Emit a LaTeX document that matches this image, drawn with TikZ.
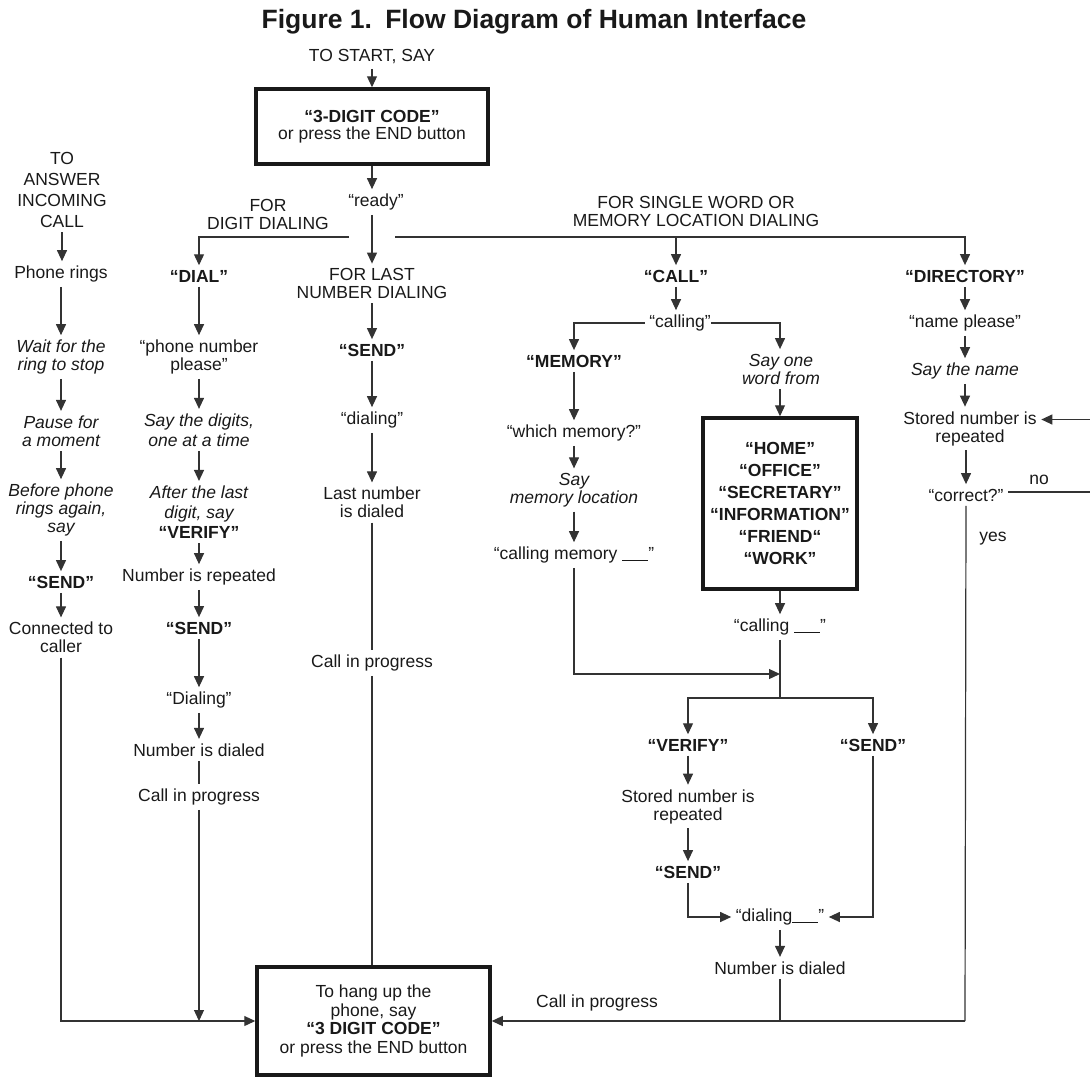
\documentclass[tikz,border=0pt]{standalone}
\usepackage{fontspec}
\setmainfont{Liberation Sans}
\usetikzlibrary{arrows.meta,calc}
\newcommand\fs{\fontsize{17.5}{18}\selectfont}
\newcommand\blank{\rule[-1.5pt]{26pt}{0.6pt}}
\begin{document}
\begin{tikzpicture}[x=1pt,y=-1pt,
 txt/.style={font=\fs, align=center, inner sep=4.5pt, text=black!90},
 bt/.style={txt, font=\fs\bfseries},
 itx/.style={txt, font=\fs\itshape},
 ln/.style={line width=1.2pt, draw=black!80},
 arr/.style={ln, -{Triangle[length=11pt,width=10pt]}},
 bigbox/.style={txt, draw=black!90, line width=3.5pt}]
\useasboundingbox (0,0) rectangle (1090,1077);

% title and start
\node[txt, font=\fontsize{26.5}{28}\selectfont\bfseries] (title) at (534,22) {Figure 1.\hspace{0.5em}Flow Diagram of Human Interface};
\node[txt] (tostart) at (372,57) {TO START, SAY};
\node[bigbox, minimum width=232pt, minimum height=75pt, font=\fontsize{17.5}{17}\selectfont] (startbox) at (372,126.5) {\textbf{“3-DIGIT CODE”}\\or press the END button};
\node[txt] (ready) at (376,202) {“ready”};
\node[txt] (fordigit) at (268,214) {FOR\\DIGIT DIALING};
\node[txt] (forlast) at (372,283.5) {FOR LAST\\NUMBER DIALING};
\node[txt] (forsingle) at (696,211.5) {FOR SINGLE WORD OR\\MEMORY LOCATION DIALING};
\node[txt, font=\fontsize{17.5}{21}\selectfont] (toanswer) at (62,190) {TO\\ANSWER\\INCOMING\\CALL};

% column 1
\node[txt] (phone) at (61,274) {Phone rings};
\node[itx] (wait) at (61,357) {Wait for the\\ring to stop};
\node[itx] (pause) at (61,431) {Pause for\\a moment};
\node[itx] (before) at (61,510) {Before phone\\rings again,\\say};
\node[bt] (send1) at (61,582) {“SEND”};
\node[txt] (conn) at (61,637.5) {Connected to\\caller};

% column 2
\node[bt] (dial) at (199,276) {“DIAL”};
\node[txt] (phnum) at (199,357) {“phone number\\please”};
\node[itx, font=\fontsize{17.5}{20}\selectfont\itshape] (saydig) at (199,430) {Say the digits,\\one at a time};
\node[itx, font=\fontsize{17.5}{20}\selectfont\itshape] (after) at (199,512) {After the last\\digit, say\\{\upshape\bfseries “VERIFY”}};
\node[txt] (numrep) at (199,577) {Number is repeated};
\node[bt] (send2) at (199,628) {“SEND”};
\node[txt] (dialing2) at (199,700) {“Dialing”};
\node[txt] (numdial) at (199,750) {Number is dialed};
\node[txt] (cip2) at (199,797) {Call in progress};

% column 3
\node[bt] (send3) at (372,350) {“SEND”};
\node[txt] (dialing3) at (372,420) {“dialing”};
\node[txt] (lastnum) at (372,502.5) {Last number\\is dialed};
\node[txt] (cip3) at (372,663) {Call in progress};
\node[bigbox, minimum width=233pt, minimum height=108pt, font=\fontsize{17.5}{18.5}\selectfont] (endbox) at (373.5,1021) {To hang up the\\phone, say\\\textbf{“3 DIGIT CODE”}\\or press the END button};

% CALL branch
\node[bt] (call) at (676,276) {“CALL”};
\node[txt] (calling) at (680,323) {“calling”};
\node[bt] (memory) at (574,361) {“MEMORY”};
\node[txt] (whichmem) at (574,433) {“which memory?”};
\node[itx] (saymem) at (574,490) {Say\\memory location};
\node[txt] (callmem) at (574,555) {“calling memory \blank”};
\node[itx] (sayone) at (781,369) {Say one\\word from};
\node[bigbox, minimum width=154pt, minimum height=171pt, font=\fontsize{17.5}{22}\selectfont\bfseries] (words) at (780,503.5) {“HOME”\\“OFFICE”\\“SECRETARY”\\“INFORMATION”\\“FRIEND“\\“WORK”};
\node[txt] (callingb) at (780,627) {“calling \blank”};
\node[bt] (verify) at (688,745) {“VERIFY”};
\node[bt] (send4) at (873,745) {“SEND”};
\node[txt] (storedb) at (688,806.5) {Stored number is\\repeated};
\node[bt] (send5) at (688,872) {“SEND”};
\node[txt] (dialingb) at (780,917) {“dialing\blank”};
\node[txt] (numdialb) at (780,968) {Number is dialed};
\node[txt] (cipr) at (597,1003) {Call in progress};

% DIRECTORY branch
\node[bt] (directory) at (965,276) {“DIRECTORY”};
\node[txt] (nameplease) at (965,323) {“name please”};
\node[itx] (saythename) at (965,371) {Say the name};
\node[txt] (storedd) at (970,428.5) {Stored number is\\repeated};
\node[txt] (correct) at (966,495) {“correct?”};
\node[txt] (no) at (1039,480) {no};
\node[txt] (yes) at (993,539) {yes};

% coordinates
\coordinate (bL) at (349,237);
\coordinate (bR) at (395,237);
\coordinate (mj) at (780,674);
\coordinate (bj) at (780,698);
\coordinate (rc) at (965,1021);
\coordinate (loopR) at (1100,0);

% top connectors
\draw[arr] (tostart.south) -- (startbox.north);
\draw[arr] (startbox.south) -- (ready.north -| startbox.south);
\draw[arr] (ready.south -| forlast.north) -- (forlast.north);
\draw[arr] (bL) -| (dial.north);
\draw[arr] (bR) -| (directory.north);
\draw[arr] (bR -| call.north) -- (call.north);

% column 1
\draw[arr] (toanswer.south) -- (toanswer.south |- phone.north);
\draw[arr] (phone.south) -- (wait.north);
\draw[arr] (wait.south) -- (pause.north);
\draw[arr] (pause.south) -- (before.north);
\draw[arr] (before.south) -- (send1.north);
\draw[arr] (send1.south) -- (conn.north);
\draw[arr] (conn.south) |- (endbox.west);

% column 2
\draw[arr] (dial.south) -- (phnum.north);
\draw[arr] (phnum.south) -- (saydig.north);
\draw[arr] (saydig.south) -- (after.north);
\draw[arr] (after.south) -- (numrep.north);
\draw[arr] (numrep.south) -- (send2.north);
\draw[arr] (send2.south) -- (dialing2.north);
\draw[arr] (dialing2.south) -- (numdial.north);
\draw[ln] (numdial.south) -- (cip2.north);
\draw[arr] (cip2.south) -- (cip2.south |- endbox.west);

% column 3
\draw[arr] (forlast.south) -- (send3.north);
\draw[arr] (send3.south) -- (dialing3.north);
\draw[arr] (dialing3.south) -- (lastnum.north);
\draw[ln] (lastnum.south) -- (cip3.north);
\draw[ln] (cip3.south) -- (cip3.south |- endbox.north);

% CALL
\draw[arr] (call.south) -- (call.south |- calling.north);
\draw[arr] (calling.west) -| (memory.north);
\draw[arr] ($(calling.east)+(-4,0)$) -| (sayone.north -| words.north);
\draw[arr] (sayone.south -| words.north) -- (words.north);
\draw[arr] (words.south) -- (callingb.north);
\draw[arr] (memory.south) -- (whichmem.north);
\draw[arr] (whichmem.south) -- (saymem.north);
\draw[arr] (saymem.south) -- (callmem.north);
\draw[arr] (callmem.south) |- (mj);
\draw[ln] (callingb.south) -- (bj);
\draw[arr] (bj) -| (verify.north);
\draw[arr] (bj) -| (send4.north);
\draw[arr] (verify.south) -- (storedb.north);
\draw[arr] (storedb.south) -- (send5.north);
\draw[arr] (send5.south) |- (dialingb.west);
\draw[arr] (send4.south) |- (dialingb.east);
\draw[arr] (dialingb.south) -- (numdialb.north);
\draw[ln] (numdialb.south) -- (numdialb.south |- rc);

% DIRECTORY
\draw[arr] (directory.south) -- (nameplease.north);
\draw[arr] (nameplease.south) -- (saythename.north);
\draw[arr] (saythename.south) -- (saythename.south |- storedd.north);
\draw[arr] (storedd.south -| correct.north) -- (correct.north);
\draw[ln] ($(correct.east)+(0,-3)$) -- ($(correct.east -| loopR)+(0,-3)$) -- ($(storedd.east -| loopR)+(0,-9)$);
\draw[arr] ($(storedd.east -| loopR)+(0,-9)$) -- ($(storedd.east)+(0,-9)$);
\draw[ln] (correct.south) -- (rc);
\draw[arr] (rc) -- (endbox.east);
\end{tikzpicture}
\end{document}
